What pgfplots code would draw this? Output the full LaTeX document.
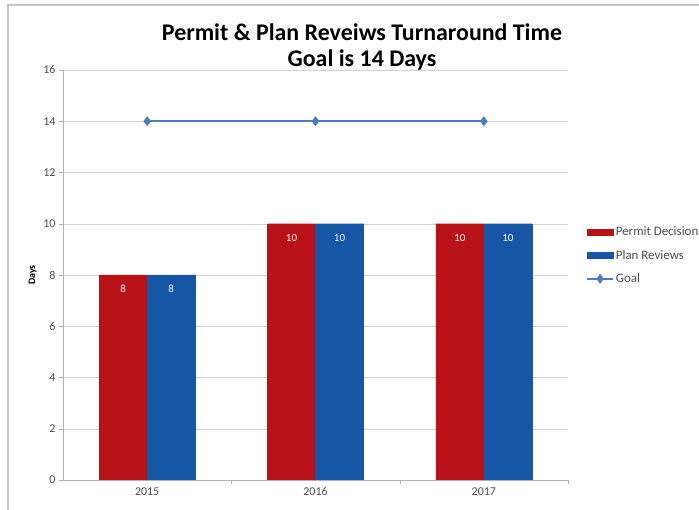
\documentclass[border=0pt]{standalone}
\usepackage{pgfplots}
\pgfplotsset{compat=1.18}
\usepackage{fontspec}
\setmainfont{Carlito}
\definecolor{permit}{RGB}{184,18,24}
\definecolor{plan}{RGB}{22,86,166}
\definecolor{goal}{RGB}{74,126,187}
\begin{document}
\begin{tikzpicture}[x=1bp,y=1bp]
\path[use as bounding box] (0,0) rectangle (699,510);
\draw[gray!45, line width=1.2bp] (8,0) -- (8,505) -- (699,505);
\node[font=\fontsize{24}{26}\selectfont\bfseries, align=center] at (362,463) {Permit \& Plan Reveiws Turnaround Time\\Goal is 14 Days};
\begin{axis}[
  at={(63bp,30bp)}, anchor=south west,
  scale only axis, width=505bp, height=410bp,
  xmin=-0.5, xmax=2.5, ymin=0, ymax=16,
  ytick={0,2,...,16},
  xtick={0,1,2}, xticklabels={2015,2016,2017},
  minor xtick={0.5,1.5,2.5},
  ymajorgrids, grid style={gray!35},
  major x tick style={draw=none},
  minor x tick style={gray!60}, minor tick length=4bp,
  major tick length=4bp,
  y tick style={gray!60},
  axis x line*=bottom, axis y line*=left,
  axis line style={gray!60},
  tick align=outside,
  ticklabel style={font=\fontsize{12}{13}\selectfont, text=black!70},
  /pgf/number format/assume math mode=true,
  ylabel={\textbf{Days}}, ylabel style={font=\fontsize{10}{11}\selectfont, at={(-0.045,0.5)}},
  ybar=0pt, bar width=48bp,
  legend style={draw=none, fill=none, at={(1.03,0.628)}, anchor=north west, font=\fontsize{13}{14}\selectfont, text=black!70, row sep=9bp},
  legend cell align=left,
]
\addplot[fill=permit, draw=permit, area legend,
  legend image code/.code={\fill[permit] (0bp,-3bp) rectangle (26bp,3bp);},
  nodes near coords, nodes near coords style={anchor=north, yshift=-7bp, text=white, font=\fontsize{11}{12}\selectfont}] coordinates {(0,8) (1,10) (2,10)};
\addlegendentry{Permit Decision}
\addplot[fill=plan, draw=plan, area legend,
  legend image code/.code={\fill[plan] (0bp,-3bp) rectangle (26bp,3bp);},
  nodes near coords, nodes near coords style={anchor=north, yshift=-7bp, text=white, font=\fontsize{11}{12}\selectfont}] coordinates {(0,8) (1,10) (2,10)};
\addlegendentry{Plan Reviews}
\addplot[sharp plot, goal, line width=1.8bp, mark=diamond*, mark size=3.5bp, mark options={fill=goal},
  legend image code/.code={\draw[goal, line width=1.5bp] (0bp,0bp) -- (26bp,0bp); \fill[goal] (13bp,0bp) +(0,3.5bp) -- +(2.5bp,0) -- +(0,-3.5bp) -- +(-2.5bp,0) -- cycle;}] coordinates {(0,14) (1,14) (2,14)};
\addlegendentry{Goal}
\end{axis}
\end{tikzpicture}
\end{document}
